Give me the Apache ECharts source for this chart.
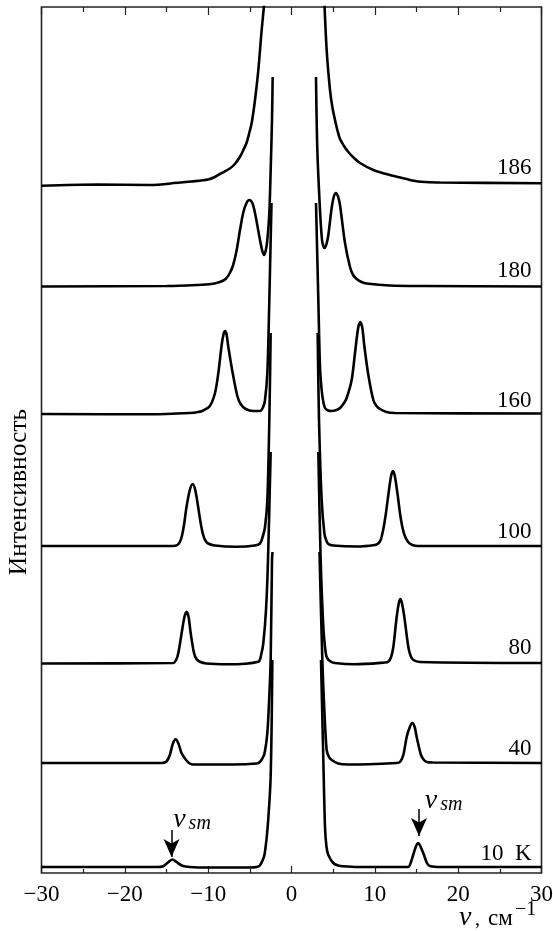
<!DOCTYPE html>
<html lang="ru">
<head>
<meta charset="utf-8">
<title>Интенсивность</title>
<script src="https://cdn.jsdelivr.net/npm/echarts@6/dist/echarts.min.js"></script>
<style>
	html, body { margin: 0; padding: 0; background: #fff; }
	#main { width: 553px; height: 931px; }
</style>
</head>
<body>
<div id="main"></div>
<script type="text/javascript">
// значения: [nu, intensity], по две ветви на каждую температуру
var curve186L = [[-30,687.3],[-23.4,688.5],[-17,688],[-13.4,690.5],[-12,691.5],[-10,693.5],[-9.2,696],[-8.6,699],[-7.4,704.5],[-6.8,709],[-6.2,716],[-5.8,722.5],[-5.4,730],[-5.1,739],[-4.78,750],[-4.38,773],[-3.98,803],[-3.58,843],[-3.14,880]];
var curve186R = [[3.9,880],[4.22,823],[4.62,783],[4.9,766],[5.22,753],[5.5,743],[5.82,734],[6.3,727],[6.82,721],[7.5,715],[8.22,710],[9.82,703],[11.8,698],[13.82,694],[14.5,692.5],[15.2,691.5],[16,691],[17.8,690.5],[30,689.7]];
var curve180L = [[-30,586.5],[-15,587],[-11.4,588],[-9.6,589],[-8.6,591],[-7.9,594],[-7.4,600],[-7,608],[-6.6,622],[-6.2,642],[-5.8,660],[-5.4,670],[-5.06,673],[-4.7,670],[-4.38,660],[-3.78,633],[-3.5,622],[-3.3,618],[-3.1,622],[-2.9,633],[-2.66,660],[-2.5,703],[-2.34,753],[-2.26,796]];
var curve180R = [[2.94,796],[3.1,723],[3.42,663],[3.66,633],[3.82,627],[3.98,625],[4.2,629],[4.42,638],[4.82,665],[5.1,677],[5.34,680],[5.6,676],[5.82,668],[6.42,630],[7.02,606],[7.4,598],[7.82,594],[8.4,591],[9.02,589.5],[11.8,587.5],[15.8,587],[30,586.5]];
var curve160L = [[-30,459],[-17,458.7],[-12.2,460],[-11.2,461],[-10.6,462.5],[-9.8,467],[-9.18,480],[-8.78,500],[-8.38,528],[-8.15,539],[-7.98,542],[-7.8,539],[-7.58,526],[-7.06,500],[-6.5,477],[-6.1,469],[-5.5,464],[-4.58,462],[-3.78,462],[-3.4,466],[-3.18,473],[-2.9,500],[-2.66,573],[-2.58,603],[-2.4,670]];
var curve160R = [[2.94,670],[3.22,573],[3.42,506],[3.62,483],[3.8,472],[4.02,465],[4.4,462.5],[4.82,462],[5.4,463],[5.82,465],[6.3,470],[6.62,475],[7.22,493],[7.62,520],[8,545],[8.26,551],[8.5,545],[8.74,527],[9.22,498],[9.82,473],[10.2,467],[10.62,464],[11.4,461],[12.42,460],[30,459.5]];
var curve100L = [[-30,327],[-14.2,327],[-13.7,328],[-13.4,331],[-13.15,337],[-12.9,348],[-12.6,366],[-12.2,383],[-11.86,389],[-11.55,383],[-11.2,366],[-10.9,350],[-10.6,338],[-10.3,332],[-10,329.5],[-9.2,327.5],[-6.58,326.3],[-4.4,327.5],[-3.78,329.5],[-3.5,335],[-3.18,346],[-2.9,373],[-2.66,453],[-2.5,540]];
var curve100R = [[3.14,540],[3.3,453],[3.62,373],[3.94,340],[4.15,333],[4.42,329],[5,327.5],[7.82,326.5],[10,328],[10.4,329.5],[10.7,333],[11.02,344],[11.3,358],[11.62,378],[11.95,397],[12.18,402],[12.4,397],[12.74,378],[13.05,358],[13.3,346],[13.6,337],[14,331],[14.5,328],[15.2,327],[30,327]];
var curve80L = [[-30,209.5],[-14.2,210],[-13.85,213],[-13.58,220],[-13.18,240],[-12.85,256],[-12.58,261.3],[-12.35,256],[-12.1,240],[-11.7,220],[-11.4,214],[-11,211.3],[-10.2,209.5],[-7.78,208.7],[-3.98,211.3],[-3.65,218],[-3.38,230],[-3.06,263],[-2.82,313],[-2.5,421]];
var curve80R = [[3.22,421],[3.5,313],[3.82,246],[4.02,226],[4.22,216],[4.6,212],[5.22,210],[7.62,208.7],[11.2,210.5],[11.62,211.3],[11.95,216],[12.22,226],[12.62,256],[12.88,270],[13.06,274],[13.25,270],[13.54,256],[14.02,226],[14.3,217],[14.62,213],[15.42,211],[30,210]];
var curve40L = [[-30,110],[-15.6,110],[-15,111.5],[-14.6,118],[-14.25,129],[-13.9,133.7],[-13.55,129],[-13.2,120],[-12.6,112.5],[-12.2,109.5],[-11.8,108.5],[-7,108.5],[-4.2,109.5],[-3.8,111],[-3.4,116],[-3.18,122],[-2.9,140],[-2.7,170],[-2.5,213],[-2.34,313],[-2.28,321]];
var curve40R = [[3.36,321],[3.7,213],[3.94,163],[4.22,123],[4.5,116],[4.82,113],[5.6,109.5],[6.82,108.5],[12.6,110],[13.02,111],[13.42,118],[13.82,136],[14.2,146],[14.5,150],[14.78,146],[15.02,136],[15.54,118],[15.9,113],[16.22,111],[17,110.5],[30,110]];
var curve10L = [[-30,6],[-16.1,6],[-15.4,6.8],[-14.9,10],[-14.3,13.5],[-13.8,11],[-13.1,7.2],[-12.2,6],[-10,5.5],[-5,5.5],[-4.2,6],[-3.8,7.5],[-3.4,14],[-3.2,20],[-2.86,46],[-2.5,97],[-2.3,213]];
var curve10R = [[3.54,213],[3.82,113],[4.02,46],[4.2,26],[4.42,18],[5,10],[5.6,7.5],[6.2,6.7],[8,6],[14,6],[14.3,10],[14.6,18],[14.95,27],[15.2,30],[15.45,27],[15.9,18],[16.25,10],[16.6,7],[18,6],[30,6]];

var curves = [curve186L, curve186R, curve180L, curve180R, curve160L, curve160R, curve100L, curve100R, curve80L, curve80R, curve40L, curve40R, curve10L, curve10R];

var tempLabels = ['186', '180', '160', '100', '80', '40', '10\u00a0\u00a0K'];
var tempLabelY = [705, 602, 472, 341, 225, 124, 19];
var tempLabelX = 28.8;

var arrowLeft = [[-14.4, 43], [-14.4, 16]];
var arrowRight = [[15.3, 64], [15.3, 37]];
var smLabels = [[-14.2, 53], [16, 72]];

var serif = '"Liberation Serif", serif';
var series = [];

for (var i = 0; i < curves.length; i++) {
	series.push({
		type: 'line',
		data: curves[i],
		showSymbol: false,
		smooth: 0.3,
		lineStyle: { color: '#000', width: 2.6 },
		silent: true
	});
}

// подписи температур
series.push({
	type: 'scatter',
	symbolSize: 0,
	itemStyle: { opacity: 1 },
	data: tempLabels.map(function (t, i) { return { value: [tempLabelX, tempLabelY[i]], name: t }; }),
	label: {
		show: true,
		position: 'left',
		distance: 0,
		formatter: '{b}',
		fontFamily: serif,
		fontSize: 23,
		color: '#000'
	}
});

// стрелки nu_sm
series.push({
	type: 'line',
	data: [],
	markLine: {
		silent: true,
		animation: false,
		symbol: ['none', 'arrow'],
		symbolSize: [12, 18],
		label: { show: false },
		lineStyle: { color: '#000', width: 1.5, type: 'solid' },
		data: [
			[{ coord: arrowLeft[0] }, { coord: arrowLeft[1] }],
			[{ coord: arrowRight[0] }, { coord: arrowRight[1] }]
		]
	}
});

series.push({
	type: 'scatter',
	symbolSize: 0,
	itemStyle: { opacity: 1 },
	data: smLabels,
	label: {
		show: true,
		position: 'right',
		distance: 0,
		formatter: '{n|ν}{s|sm}',
		rich: {
			n: { fontFamily: serif, fontStyle: 'italic', fontSize: 28, color: '#000' },
			s: { fontFamily: serif, fontStyle: 'italic', fontSize: 20, color: '#000', verticalAlign: 'bottom', padding: [0, 0, 0, 3] }
		}
	}
});

var tickStyle = { color: '#222', width: 1.2 };
var myChart = echarts.init(document.getElementById('main'), null, { renderer: 'canvas' });

myChart.setOption({
	animation: false,
	grid: { left: 41.5, right: 11.5, top: 7, bottom: 58, show: true, borderColor: '#222', borderWidth: 1.6, backgroundColor: '#fff', outerBoundsMode: 'none' },
	xAxis: [
		{
			type: 'value', min: -30, max: 30, interval: 10,
			axisLine: { show: false },
			axisTick: { show: true, inside: true, length: 7, lineStyle: tickStyle },
			minorTick: { show: true, splitNumber: 2, length: 4, lineStyle: tickStyle },
			splitLine: { show: false },
			axisLabel: {
				margin: 10, fontFamily: serif, fontSize: 23, color: '#000',
				showMinLabel: true, showMaxLabel: true, hideOverlap: false,
				formatter: function (v) { return v < 0 ? '\u2212' + Math.abs(v) : '' + v; }
			}
		},
		{
			type: 'value', position: 'top', min: -30, max: 30, interval: 10,
			axisLine: { show: false },
			axisTick: { show: true, inside: true, length: 8, lineStyle: tickStyle },
			minorTick: { show: true, splitNumber: 2, length: 5, lineStyle: tickStyle },
			splitLine: { show: false },
			axisLabel: { show: false }
		}
	],
	yAxis: {
		type: 'value', min: 0, max: 866,
		axisLine: { show: false }, axisTick: { show: false },
		axisLabel: { show: false }, splitLine: { show: false }
	},
	graphic: [
		{ type: 'text', x: 19, y: 492, rotation: Math.PI / 2, style: { text: 'Интенсивность', align: 'center', verticalAlign: 'middle', font: '25.5px ' + serif, fill: '#000' } },
		{ type: 'text', x: 459, y: 918, style: { text: 'ν', align: 'left', verticalAlign: 'middle', font: 'italic 28px ' + serif, fill: '#000' } },
		{ type: 'text', x: 475, y: 920, style: { text: ',', align: 'left', verticalAlign: 'middle', font: '20px ' + serif, fill: '#000' } },
		{ type: 'text', x: 488, y: 919, style: { text: 'см', align: 'left', verticalAlign: 'middle', font: '23px ' + serif, fill: '#000' } },
		{ type: 'text', x: 515, y: 910, style: { text: '\u22121', align: 'left', verticalAlign: 'middle', font: '20px ' + serif, fill: '#000' } }
	],
	series: series
});
</script>
</body>
</html>
